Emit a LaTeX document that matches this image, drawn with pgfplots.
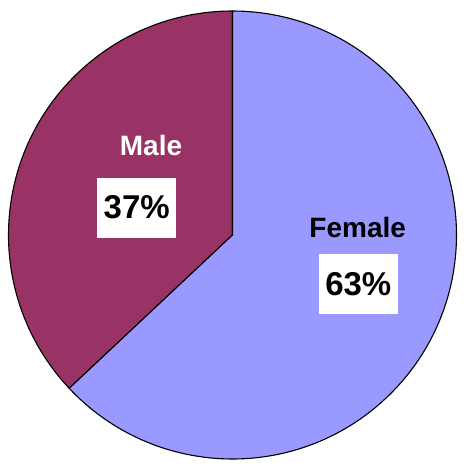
\documentclass[border=0pt]{standalone}
\usepackage{pgfplots}
\usepackage{pgfplotstable}
\pgfplotsset{compat=1.18}
\usepackage{fontspec}
\setmainfont{Liberation Sans}
\definecolor{male}{HTML}{993366}
\definecolor{female}{HTML}{9999FF}
\pgfplotstableread{
label share
Male 37
Female 63
}\piedata
\begin{document}
\begin{tikzpicture}
\pgfplotstablegetelem{0}{share}\of\piedata
\pgfmathtruncatemacro{\maleshare}{\pgfplotsretval}
\pgfplotstablegetelem{1}{share}\of\piedata
\pgfmathtruncatemacro{\femaleshare}{\pgfplotsretval}
\pgfmathsetmacro{\split}{90+\maleshare*3.6}
\begin{axis}[
  hide axis, scale only axis, clip=false,
  width=467pt, height=467pt,
  xmin=0, xmax=467, ymin=0, ymax=467,
  anchor=south west, at={(0,0)},
]
\filldraw[fill=male, draw=black, line width=1.1pt, line join=round]
  (axis cs:232.5,232) -- ++(90:224pt) arc[start angle=90, end angle=\split, radius=224pt] -- cycle;
\filldraw[fill=female, draw=black, line width=1.1pt, line join=round]
  (axis cs:232.5,232) -- ++(\split:224pt) arc[start angle=\split, end angle=450, radius=224pt] -- cycle;
\node[text=white, font=\fontsize{28}{30}\selectfont\bfseries, inner sep=0pt] at (axis cs:151,321.2) {Male};
\node[fill=white, minimum width=79pt, minimum height=60pt, inner sep=0pt, font=\fontsize{33}{36}\selectfont\bfseries] at (axis cs:136.7,259.5) {\maleshare\%};
\node[text=black, font=\fontsize{28}{30}\selectfont\bfseries, inner sep=0pt] at (axis cs:357.7,240) {Female};
\node[fill=white, minimum width=79pt, minimum height=60pt, inner sep=0pt, font=\fontsize{33}{36}\selectfont\bfseries] at (axis cs:358.3,183.3) {\femaleshare\%};
\end{axis}
\pgfresetboundingbox
\path (0,0) rectangle (467pt,467pt);
\end{tikzpicture}
\end{document}
